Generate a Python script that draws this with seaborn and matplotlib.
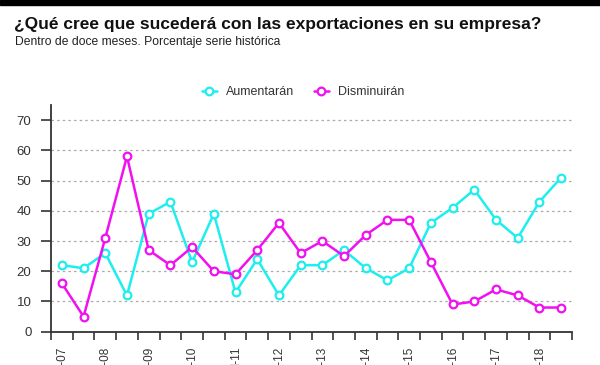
import matplotlib
matplotlib.use("Agg")
import matplotlib.pyplot as plt
import seaborn as sns
import pandas as pd
from matplotlib.lines import Line2D

# ---- data ----
periods = [f"{h}-{y:02d}" for y in range(7, 19) for h in ("I", "II")]
aumentaran = [22, 21, 26, 12, 39, 43, 23, 39, 13, 24, 12, 22,
              22, 27, 21, 17, 21, 36, 41, 47, 37, 31, 43, 51]
disminuiran = [16, 5, 31, 58, 27, 22, 28, 20, 19, 27, 36, 26,
               30, 25, 32, 37, 37, 23, 9, 10, 14, 12, 8, 8]
series_names = ["Aumentarán", "Disminuirán"]
title = "¿Qué cree que sucederá con las exportaciones en su empresa?"
subtitle = "Dentro de doce meses. Porcentaje serie histórica"
yticks = [0, 10, 20, 30, 40, 50, 60, 70]

df = pd.DataFrame({"periodo": periods * 2,
                   "valor": aumentaran + disminuiran,
                   "serie": [series_names[0]] * len(periods) + [series_names[1]] * len(periods)})
df["idx"] = list(range(len(periods))) * 2

sns.set_theme(style="white")
plt.rcParams["font.family"] = ["Liberation Sans", "DejaVu Sans"]

CYAN = "#1EEEEE"
MAG = "#F010F0"
palette = {series_names[0]: CYAN, series_names[1]: MAG}

fig = plt.figure(figsize=(6.0, 3.65), dpi=100)
ax = fig.add_axes([51 / 600, 1 - 331.7 / 365, (572 - 51) / 600, (331.7 - 105) / 365])

sns.lineplot(data=df, x="idx", y="valor", hue="serie", palette=palette, ax=ax,
             marker="o", markersize=5.5, markerfacecolor="white", markeredgewidth=1.6,
             linewidth=1.8, legend=False)
for line, c in zip(ax.lines, [CYAN, MAG]):
    line.set_markeredgecolor(c)

n = len(periods)
ax.set_xlim(-0.5, n - 0.5)
ax.set_ylim(0, 75)
ax.set_xlabel("")
ax.set_ylabel("")

# y axis
ax.set_yticks(yticks)
ax.set_yticklabels([str(v) for v in yticks], fontsize=9.5, color="#333333")
for v in yticks[1:]:
    ax.axhline(v, color="#aaaaaa", linestyle=(0, (2, 2.5)), linewidth=0.9, zorder=0)

# x axis: ticks at category boundaries, labels every second category
ax.set_xticks([i - 0.5 for i in range(n + 1)])
ax.set_xticklabels([])
ax.set_xticks(list(range(0, n, 2)), minor=True)
ax.set_xticklabels([periods[i] for i in range(0, n, 2)], minor=True,
                   rotation=90, fontsize=8.5, color="#333333")
ax.tick_params(axis="x", which="major", direction="out", length=6, width=1.2,
               color="#333333", bottom=True)
ax.tick_params(axis="x", which="minor", length=0, pad=10, bottom=True)
ax.tick_params(axis="y", direction="out", length=7, width=1.2, color="#333333",
               left=True, pad=7)

for s in ["top", "right"]:
    ax.spines[s].set_visible(False)
for s in ["left", "bottom"]:
    ax.spines[s].set_color("#333333")
    ax.spines[s].set_linewidth(1.3)

# legend
handles = [Line2D([], [], color=c, marker="o", markersize=5.5, markerfacecolor="white",
                  markeredgecolor=c, markeredgewidth=1.6, linewidth=1.8)
           for c in (CYAN, MAG)]
leg = fig.legend(handles, series_names, loc="center", bbox_to_anchor=(303 / 600, 1 - 92 / 365),
                 ncol=2, frameon=False, fontsize=9, handlelength=1.2, columnspacing=1.6,
                 handletextpad=0.7)
for t in leg.get_texts():
    t.set_color("#333333")

# titles (fit widths to reference)
t1 = fig.text(14 / 600, 1 - 29.5 / 365, title, fontsize=14, fontweight="bold", color="#111111",
              ha="left", va="baseline")
t2 = fig.text(15 / 600, 1 - 44.5 / 365, subtitle, fontsize=9, color="#222222",
              ha="left", va="baseline")
fig.canvas.draw()
r = fig.canvas.get_renderer()
for t, target in ((t1, 529), (t2, 267)):
    w = t.get_window_extent(renderer=r).width
    t.set_fontsize(t.get_fontsize() * target / w)

# top black band
fig.patches.append(plt.Rectangle((0, 1 - 5 / 365), 1, 5 / 365, transform=fig.transFigure,
                                 color="black", zorder=10))

fig.savefig("out.png", dpi=100)
